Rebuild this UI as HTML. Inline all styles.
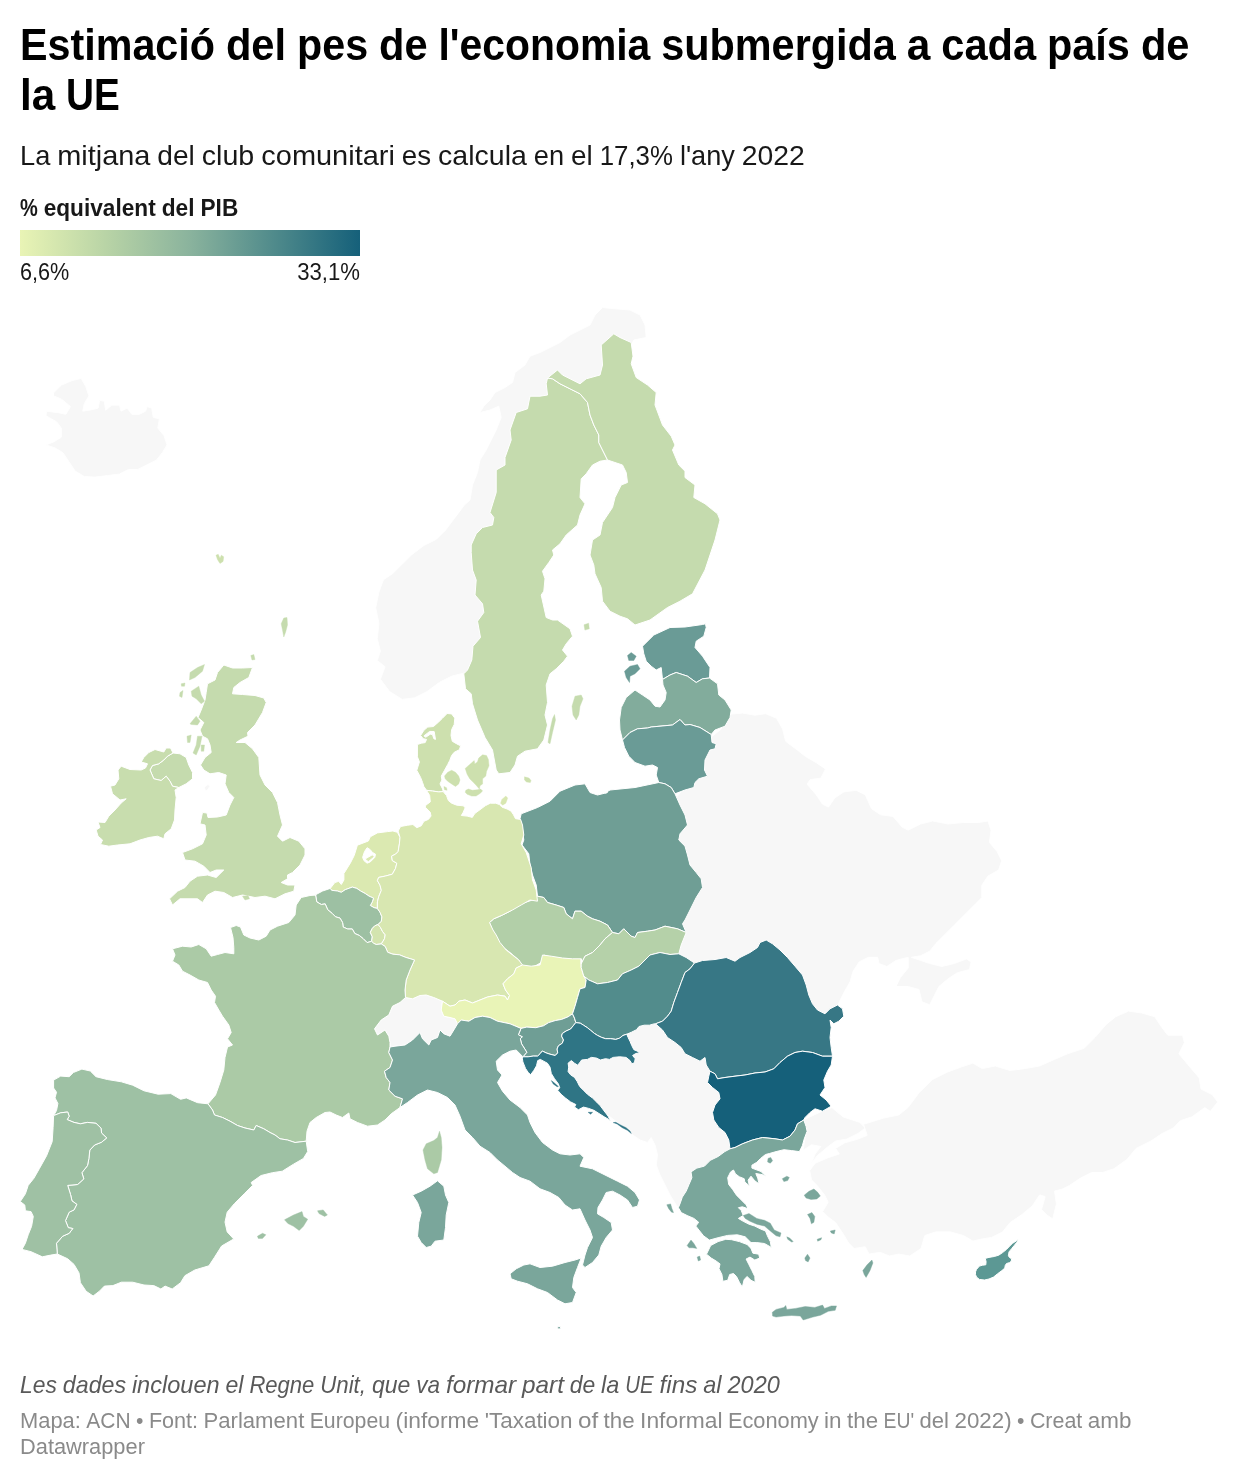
<!DOCTYPE html>
<html lang="ca"><head><meta charset="utf-8"><title>Estimació del pes de l'economia submergida a cada país de la UE</title>
<style>
html,body{margin:0;padding:0;background:#fff}
svg{display:block}
text{font-family:"Liberation Sans",Arial,sans-serif}
.t{font-weight:700;font-size:44px;fill:#000}
.s{font-size:28px;fill:#181818}
.lt{font-weight:700;font-size:24px;fill:#181818}
.ll{font-size:24px;fill:#181818}
.n{font-size:24px;font-style:italic;fill:#595959}
.f{font-size:22px;fill:#8a8a8a}
.bg path{fill:#f7f7f7;stroke:#fff;stroke-width:1;stroke-linejoin:round}
.c path{fill-rule:evenodd;stroke:#fff;stroke-width:1;stroke-linejoin:round}
</style></head><body>
<svg width="1240" height="1480" viewBox="0 0 1240 1480">
<defs><linearGradient id="g" x1="0" x2="1" y1="0" y2="0">
<stop offset="0" stop-color="#e9f4b5"/><stop offset="0.25" stop-color="#b9d4a6"/><stop offset="0.5" stop-color="#8ab39d"/><stop offset="0.75" stop-color="#4f8a8b"/><stop offset="1" stop-color="#15607a"/>
</linearGradient></defs>
<rect width="1240" height="1480" fill="#fff"/>
<text class="t" y="60"><tspan x="20.0" textLength="195.0" lengthAdjust="spacingAndGlyphs">Estimació</tspan> <tspan x="225.9" textLength="60.2" lengthAdjust="spacingAndGlyphs">del</tspan> <tspan x="297.0" textLength="71.1" lengthAdjust="spacingAndGlyphs">pes</tspan> <tspan x="379.0" textLength="48.5" lengthAdjust="spacingAndGlyphs">de</tspan> <tspan x="438.5" textLength="211.8" lengthAdjust="spacingAndGlyphs">l'economia</tspan> <tspan x="661.2" textLength="234.7" lengthAdjust="spacingAndGlyphs">submergida</tspan> <tspan x="906.8" textLength="23.6" lengthAdjust="spacingAndGlyphs">a</tspan> <tspan x="941.3" textLength="94.8" lengthAdjust="spacingAndGlyphs">cada</tspan> <tspan x="1047.0" textLength="82.9" lengthAdjust="spacingAndGlyphs">país</tspan> <tspan x="1140.9" textLength="48.5" lengthAdjust="spacingAndGlyphs">de</tspan></text>
<text class="t" y="110"><tspan x="20.0" textLength="35.2" lengthAdjust="spacingAndGlyphs">la</tspan> <tspan x="66.1" textLength="53.8" lengthAdjust="spacingAndGlyphs">UE</tspan></text>
<text class="s" y="165"><tspan x="20.0" textLength="30.3" lengthAdjust="spacingAndGlyphs">La</tspan> <tspan x="57.2" textLength="93.2" lengthAdjust="spacingAndGlyphs">mitjana</tspan> <tspan x="157.3" textLength="37.5" lengthAdjust="spacingAndGlyphs">del</tspan> <tspan x="201.7" textLength="52.6" lengthAdjust="spacingAndGlyphs">club</tspan> <tspan x="261.3" textLength="133.6" lengthAdjust="spacingAndGlyphs">comunitari</tspan> <tspan x="401.8" textLength="29.3" lengthAdjust="spacingAndGlyphs">es</tspan> <tspan x="438.1" textLength="88.8" lengthAdjust="spacingAndGlyphs">calcula</tspan> <tspan x="533.8" textLength="30.3" lengthAdjust="spacingAndGlyphs">en</tspan> <tspan x="571.1" textLength="21.7" lengthAdjust="spacingAndGlyphs">el</tspan> <tspan x="599.7" textLength="73.2" lengthAdjust="spacingAndGlyphs">17,3%</tspan> <tspan x="679.9" textLength="55.0" lengthAdjust="spacingAndGlyphs">l'any</tspan> <tspan x="741.8" textLength="63.0" lengthAdjust="spacingAndGlyphs">2022</tspan></text>
<text class="lt" y="215.5"><tspan x="20.0" textLength="17.8" lengthAdjust="spacingAndGlyphs">%</tspan> <tspan x="43.7" textLength="112.0" lengthAdjust="spacingAndGlyphs">equivalent</tspan> <tspan x="161.7" textLength="32.8" lengthAdjust="spacingAndGlyphs">del</tspan> <tspan x="200.5" textLength="37.8" lengthAdjust="spacingAndGlyphs">PIB</tspan></text>
<rect x="20" y="230" width="340" height="26" fill="url(#g)"/>
<text class="ll" y="279.5"><tspan x="20.0" textLength="49.3" lengthAdjust="spacingAndGlyphs">6,6%</tspan></text>
<text class="ll" y="279.5"><tspan x="297.2" textLength="62.8" lengthAdjust="spacingAndGlyphs">33,1%</tspan></text>
<g class="bg">
<path d="M405.5,997.5L412.5,998.8L420,995.5L426.2,995L433.8,997.5L442.5,1001.2L442.5,1001.2L441.2,1010L443.8,1016.2L450,1017.5L455,1018.8L457.5,1023.8L457.5,1023.8L453.8,1030L450,1036.2L443.8,1033.8L440,1030L437.5,1037.5L431.2,1040L428.8,1045L422.5,1038.8L420,1032.5L412.5,1040L405,1045L395,1046.2L390,1047L390,1047L390,1042.5L388.8,1036.2L385,1030L377.5,1035L374.5,1028.8L381.2,1020L388.8,1015L392.5,1006.2L400,1002.5L405.5,997.5Z"/>
<path d="M803.7,1119.8L822.7,1110.9L831.9,1107.6L843.1,1116.9L859.8,1122.4L865.3,1128L857.9,1133.5L846.8,1139.1L835.6,1141L828.2,1146.5L817.1,1155.8L811.5,1163.2L815.2,1154L820.8,1146.5L811.5,1144.7L806,1148.4L803,1150.2L805.2,1137.3L806,1128Z"/>
<path d="M863.5,1124.3L883.9,1118L898.7,1115L908,1107.6L919.1,1092.7L932.1,1079.8L946.9,1072.3L961.8,1066.8L972.9,1063.1L982.2,1068.6L995.2,1066L1010,1070.5L1024.8,1068.6L1039.7,1066L1054.5,1059.4L1067.5,1053.8L1084.2,1048.2L1095.3,1037.1L1106.5,1024.1L1115.7,1016.7L1128.7,1011.1L1141.7,1013L1154.7,1016.7L1162.1,1027.8L1167.7,1035.2L1182.5,1035.2L1184.4,1042.7L1178.8,1053.8L1188.1,1064.9L1199.2,1077.9L1201,1089L1212.2,1094.6L1217.7,1102L1210.3,1111.3L1204.8,1107.6L1191.8,1116.9L1180.6,1120.6L1173.2,1128L1162.1,1133.5L1151,1141L1136.1,1148.4L1126.9,1159.5L1113.9,1168.8L1102.7,1172.5L1091.6,1172.5L1080.5,1178.1L1069.4,1185.5L1061.9,1189.2L1054.5,1191L1056.4,1204L1052.7,1218.9L1047.1,1215.2L1041.5,1209.6L1045.2,1196.6L1039.7,1194.8L1032.3,1205.9L1021.1,1215.2L1010,1222.6L1002.6,1231.9L991.5,1237.4L980.3,1239.3L972.9,1241.1L963.6,1235.6L950.6,1231.9L935.8,1231.9L924.7,1235.6L921,1248.5L909.8,1256L898.7,1254.1L889.4,1256L880.2,1252.3L869,1254.1L865.3,1246.7L854.2,1248.5L848.6,1243L843.1,1233.7L835.6,1222.6L828.2,1217L822.7,1211.5L828.2,1202.2L824.5,1194.8L817.1,1185.5L811.5,1179.9L809.7,1170.6L815.2,1163.2L828.2,1157.7L839.4,1154L835.6,1148.4L844.9,1142.8L857.9,1139.1L867.2,1135.4Z"/>
<path d="M721.3,729L728,714.3L742.7,713.1L755,715.2L765.7,713.7L776.5,718.3L782.6,729L785.6,741.3L797.9,750.5L805.6,756.6L816.3,762.7L825.5,768.9L820.9,778.1L810.2,779.6L807.1,784.2L816.3,794.9L822.4,804.1L828.5,807.2L834.7,798L843.9,791.9L856.1,790.3L865.3,794.9L871.5,808.7L880.6,814.8L892.9,816.4L902.1,827.1L908.2,830.2L920.5,824L932.7,821L948.1,824L963.4,822.5L978.7,822.5L987.9,821L991,830.2L989.4,842.4L997.1,851.6L1001.7,860.8L998.6,870L987.9,876.1L981.8,885.3L981.8,897.6L975.6,903.7L966.5,912.9L954.2,925.2L945,934.4L935.8,943.5L929.7,951.2L920.5,955.8L911.3,957.3L920.5,960.4L929.7,963.5L941.9,966.5L954.2,963.5L966.5,958.9L971,961.9L969.5,969.6L957.3,972.7L948.1,978.8L938.9,986.5L934.3,995.6L929.7,1004.8L922,1001.8L919,989.5L908.2,986.5L896,986.5L900.6,977.3L908.2,968.1L908.2,957.3L896,960.4L886.8,966.5L879.1,963.5L877.6,957.3L868.4,957.3L859.2,961.9L853.1,971.1L850,981.9L843.9,992.6L839.3,1001.8L836.2,1009.4L813.2,1017.1L751.9,1001.8L696.8,986.5L672.3,971.1L669.2,940.5L672.3,863.9L672.3,802.6L696.8,771.9L706,741.3Z"/>
<path d="M631.2,1133.8L640,1140L647.5,1142.5L651.2,1137.5L655,1145L657.5,1155L656.2,1165L660,1175L665,1185L670,1195L676.2,1205L678.8,1207.5L695,1195L710,1175L740,1155L740,1132.5L730,1107.5L730,1082.5L720,1060L690,1040L670,1020L650,1015L625,1025L622.5,1045L590,1050L565,1052.5L563.8,1072.5L572.5,1085L582.5,1095L602.5,1111.2L622.5,1126.2Z"/>
<path d="M646.2,337.5L645,325L640,315L630,310L615,308.8L602.5,307.5L595,315L590,325L580,330L570,335L560,342.5L550,347.5L540,352.5L530,356.2L525,365L515,372.5L512.5,382.5L505,387.5L495,392.5L490,400L483.8,406.2L480,412.5L490,410L498.8,406.2L501.2,417.5L496.2,430L491.2,440L486.2,450L480,460L477.5,472.5L472.5,485L470,500L464.3,505.1L455,517.6L445.7,530L436.4,539.3L423.9,545.5L411.5,554.9L402.2,564.2L392.8,573.5L383.5,579.7L378.9,592.2L375.7,607.7L378.9,623.2L377.3,638.8L380.4,651.2L377.3,660.5L385.1,666.8L380.4,679.2L389.7,691.6L402.2,699.4L414.6,697.8L427,691.6L439.5,682.3L451.9,676.1L464.3,673L470.5,673L486.1,641.9L495.4,607.7L492.3,548.6L510.9,517.6L520.3,461.6L532.7,430.5L550,405L570,395L590,390L610,375L620,350L630,347.5L633.8,340Z"/>
<path d="M53.6,392.8L61.3,385.2L72,380.6L81.2,378.4L85.8,386.7L88.9,395.9L84.3,403.5L82.7,411.2L91.9,409.7L98.1,408.1L99.6,400.5L104.2,401.1L105.7,410.3L111.9,405.1L119.5,405.1L121,411.2L127.2,408.1L131.8,414.3L139.4,414.3L145.6,411.2L147.1,406.6L151.7,408.1L153.2,417.3L159.4,418.9L157.8,428.1L164,435.7L167,444.9L162.4,452.6L156.3,460.2L147.1,464.8L137.9,469.4L128.7,469.4L119.5,474L107.3,475.6L95,477.1L84.3,476.5L75.1,471L69,461.8L62.8,452.6L55.2,448L46,444.9L53.6,441.9L61.3,437.3L61.3,428.1L56.7,421.9L46,415.8L46.6,411.2L58.2,412.7L65.9,414.3L70.5,406.6L61.3,399L53.6,395.9Z"/>
<path d="M204.5,787L208,784.5L210,786.2L207,790.5L205,790Z"/>
</g>
<g class="c">
<path fill="#c5dbae" d="M607.5,460L602.5,450L598.8,442.5L598.8,435L593.8,425L590,415L587.5,402.5L580,393.8L570,388.8L560,383.8L552.5,378.8L547.5,378L547.5,378L546.2,383.8L547.5,395L540,396.2L530,396.2L527.5,408.8L516.2,412.5L510,430L511.2,440L505,457.5L505,465L496.2,470L496.2,492.5L490,512.5L493.8,517.5L492.5,525L482.5,527.5L476.2,533.8L471.2,545L471.2,552.5L472.5,570L476.2,580L475,595L482.5,603.8L483.8,612.5L477.5,621.2L480.5,637.5L473,646.2L471.8,660L467.5,670L463.8,673.8L465.5,688.8L471.2,693.8L472.5,703.8L477.5,720L485,737.5L492.5,750L496.2,770L498.8,773.8L510,772.5L515,765L517.5,756.2L525,751.2L537.5,748.8L543.8,740L547.5,725L545,715L547.5,702.5L546.2,685L550,673.8L556.2,668.8L563.8,661.2L567.5,656.2L562.5,650L566.2,643.8L572.5,636.2L570,628.8L557.5,620L552.5,620L546.2,617.5L541.2,595L543.8,591.2L545,578.8L542.5,571.2L548.8,562.5L553.8,555L552.5,550L560,543.8L566.2,535L577.5,525L580,515L585,503.8L580,497.5L581.2,478.8L586.2,473.8L592.5,465L600,461.2L607.5,460Z"/>
<path fill="#c5dbae" d="M547.5,378L557.5,370L562.5,375L580,383.8L586.2,378.8L600,375L602.5,365L601.2,345L613.8,333.8L620,337.5L631.2,342.5L633,356.2L631.2,363.8L636.2,377.5L647.5,385L656.2,392.5L655,405L662.5,425L671.2,436.2L675,445L672.5,450L678.8,465L685,471.2L685,477.5L695,485L693.8,497.5L705,503.8L717.5,513.8L720,520L715,540L705,570L692.5,593.8L680,601.2L667.5,607.5L650,620L635,625L627.5,618.8L620,616.2L610,611.2L602.5,601.2L601.2,587.5L595,573.8L593.8,565L590,555L592.5,540L600,535L602.5,522.5L612.5,507.5L615,497.5L621.2,485L627.5,482.5L626.2,472.5L622.5,465L615,462.5L607.5,460L602.5,450L598.8,442.5L598.8,435L593.8,425L590,415L587.5,402.5L580,393.8L570,388.8L560,383.8L552.5,378.8L547.5,378Z"/>
<path fill="#cde0ae" d="M426.5,790.3L423.9,786.5L422.6,782.6L420.6,777.4L416.8,770.3L419.4,761.9L417.4,756.8L417.4,744.5L421.3,743.2L425.2,742.6L426.5,739.4L423.2,738.7L420.6,735.5L423.9,730.3L427.7,727.1L433.5,726.5L438.7,721.9L442.6,718.1L447.1,713.5L451.6,713.9L454.8,718.1L454.2,724.5L451.6,729.7L451,735.5L452.3,741.3L456.8,743.9L460.6,745.8L459.4,749.7L454.2,752.3L451.6,755.5L449.7,760.6L447.7,764.5L444.5,770.3L441.3,776.1L441.9,780L440,783.9L442.6,789L443.2,791.6L438.7,791.9L432.3,791L426.5,790.3ZM423.9,735.9L429.7,731.4L434.2,731.6L435.5,739.4L433.8,738.7L432.5,734.6L430.3,734.2L425.8,737.2Z"/>
<path fill="#6a9b96" d="M642.5,646.2L653.8,635L670,627.5L685,627L702.5,624.5L705.5,623.8L706.2,627.5L703.8,636.2L696.2,641.2L695,647.5L702.5,656.2L710,667.5L709.5,678L702.5,678.8L696.2,682.5L687.5,676.2L676.2,672.5L670,675L662.5,679.5L661.2,667.5L656.2,670L651.2,666.2L646.2,661.2L643.8,653.8Z"/>
<path fill="#82ac9c" d="M662.5,679.5L670,675L676.2,672.5L687.5,676.2L696.2,682.5L702.5,678.8L709.5,678L717.5,683.8L718.8,695L725,700L731.2,710L730,717.5L725,726.2L715,730L711.2,734.5L700,727.5L690,724.5L685,725L680,719.5L672.5,725L660,726.2L651.2,727L647.5,728L637.5,728.8L630,732.5L622.5,740L620,730L619.5,720L621.2,707.5L626.2,697.5L635,690L642.5,695L650,700L655,706.2L660,707L665,700L666.2,692.5L663,685Z"/>
<path fill="#6a9b96" d="M622.5,740L630,732.5L637.5,728.8L647.5,728L651.2,727L660,726.2L672.5,725L680,719.5L685,725L690,724.5L700,727.5L711.2,734.5L712,742.5L716.2,743.8L715,748.8L710,750L705,760L704.5,770L707.5,776.2L698.8,778.8L695,782.5L693.8,787.5L685,790L675,793.8L671.2,787.5L665,783.8L658.8,782.5L656.2,775L657.5,767.5L652.5,765L645,766.2L635,762.5L628.8,756.2L624.5,747.5Z"/>
<path fill="#6f9e95" d="M521.2,813.8L537.5,807.5L550,801.2L560,791.2L575,785L585,783.8L590,792.5L597.5,795L607.5,792.5L605,793L610,790L635,787.5L658.8,782.5L665,783.8L671.2,787.5L675,793.8L680,805L685,815L687.5,825L680,833.8L678.8,840L685,846.2L687.5,855L690,865L696.2,872.5L701.2,878.8L702.5,887.5L696.2,897.5L690,910L685,920L682.5,923.8L686.2,932.5L677.5,928.8L665,926.2L655,930L647.5,931.2L637.5,932.5L635,937.5L631.2,936.2L623.8,928.8L618.8,933.8L612.5,932.5L612.5,932.5L607.5,925L600,921.2L592.5,918.8L587.5,916.2L581.2,911.2L575,911.2L572.5,918.8L566.2,913.8L563.8,907.5L556.2,905L547.5,902.5L543.8,897.5L537.5,896.2L537.5,896.2L536.2,885L532.5,875L530,865L528.8,853.8L522,845L523.8,840L522.5,830L520,818.8Z"/>
<path fill="#b2cfa8" d="M537.5,896.2L543.8,897.5L547.5,902.5L556.2,905L563.8,907.5L566.2,913.8L572.5,918.8L575,911.2L581.2,911.2L587.5,916.2L592.5,918.8L600,921.2L607.5,925L612.5,932.5L612.5,932.5L605,938.8L600,945L592.5,952.5L585,956.2L581.2,963.8L580.5,964.5L575,960L565,958.8L552.5,957.5L543.8,955L541.2,962.5L532.5,967.5L522.5,967L522.5,967L518.8,960L510,952.5L500,945L496.2,937.5L492.5,930L489.5,922.5L493.8,918.8L500,916.2L510,911.2L517.5,905L525,902.5L532.5,900L537.5,896.2Z"/>
<path fill="#c5dbae" d="M223.8,665L232.5,668L242.5,668L252.5,667.5L248.8,677.5L240,682.5L233.8,687.5L232.5,693.8L242.5,694.5L255,695.5L263.8,698L266.2,702.5L262.5,712.5L255,725L247.5,732.5L248,736.2L240,740L236.2,742.5L245,742.5L252.5,748.8L258.8,757.5L260,775L265,785L272.5,792.5L277.5,802.5L280,815L282.5,825L277.5,836.2L282.5,841.2L290,837.5L298.8,841.2L305,848.8L305,855L300,865L292.5,872.5L287.5,875L287.5,878.8L281.2,882.5L287.5,885L295,885L293.8,891.2L285,893.8L275,898.8L265,896.2L255,897.5L242.5,895L232.5,897.5L223.8,892.5L215,891.2L207.5,895L202.5,902.5L197.5,898.8L190,898.8L180,898.8L172.5,905L169.5,898.8L177.5,891.2L185,887.5L190,881.2L197.5,876.2L207.5,875L216.2,877.5L223.8,870L216.2,870L210,872.5L203.8,866.2L195,861.2L185,860L182.5,852.5L192.5,848.8L202.5,843.8L206.2,835L205,825L200,823.8L202.5,812.5L207,813L208,817.5L217.5,817L226.2,815L230,805L233.8,797.5L228.8,792.5L225,783.8L226.2,775L218.8,772.5L210,773.8L203.8,770L200.5,765L205,757.5L211.2,752.5L210,745L207.5,738.8L202.5,736.2L200,730L203.8,722.5L198,717.5L201.2,710L205,700L206.2,692.5L207.5,683.8L215,680L217.5,672.5ZM173,753L167.5,756.2L163.8,760L158.8,763.8L152.5,765.5L150,770L153.8,778.8L161.2,780.5L166.2,776.2L170,781.2L172.5,786.2L178.8,787.5L186.2,783.8L192.5,778.8L192.5,772.5L188.8,765L186.2,757.5L180,753.8Z"/>
<path fill="#c8ddae" d="M173,753L170.5,748L166.2,748L163.8,752L155,749.5L148.8,752.5L143.8,757.5L141.2,762L147.5,763.8L145.5,768L141.2,770L130,769.5L121.2,766.2L118,770L118.8,778.8L115,785L110.5,786.2L112.5,793.8L120,800L126.2,798.8L121.2,803L115,810L108.8,816.2L105,822.5L98,822L100,827.5L96.2,830L98,836.2L102.5,840L100.5,844.5L108.8,846.2L117.5,845L130,843.8L140,840L148.8,837.5L157.5,836.2L163.8,838.8L165,833.8L171.2,828.8L174.5,820L175,810L176.2,797.5L175,790L178.8,787.5L172.5,786.2L170,781.2L166.2,776.2L161.2,780.5L153.8,778.8L150,770L152.5,765.5L158.8,763.8L163.8,760L167.5,756.2L173,753Z"/>
<path fill="#dbe9b1" d="M330.3,888.4L334.8,882.6L338.7,881.3L341.3,884.5L343.9,880L343.9,873.5L350.3,863.2L354.2,855.5L357.4,845.2L368.4,841L370.3,836.8L377.4,832.9L387.7,831.6L392.9,831L397.4,832.3L400,837.4L399.4,843.9L398.1,851.6L395.5,854.2L391.6,856.1L392.3,860.6L396.8,863.2L395.5,868.4L392.3,874.2L385.2,876.1L378.7,877.4L377.4,880.6L380,885.2L381.3,890.3L378.7,896.8L377.4,901.9L377.4,908.4L377.4,908.4L374.2,907.7L370.3,905.5L372.3,901.9L373.5,898.1L369,896.1L365.2,893.5L360.6,891L356.8,888.4L352.3,887.1L345.2,889.7L341.3,892.3L337.4,891L331.6,890.3L330.3,888.4ZM362.6,857.4L364.5,851.6L367.1,847.7L370.3,849.7L372.3,852.3L375.5,854.2L374.8,857.4L370.3,861.9L367.1,863.2L363.9,860.6ZM364.9,859.1L372.3,854.8L374.3,856.8L368.4,861.7Z"/>
<path fill="#9dc0a3" d="M315.5,894.8L322.6,891L330.3,888.4L331.6,890.3L337.4,891L341.3,892.3L345.2,889.7L352.3,887.1L356.8,888.4L360.6,891L365.2,893.5L369,896.1L373.5,898.1L372.3,901.9L370.3,905.5L374.2,907.7L377.4,908.4L377.4,908.4L380,912.3L381.9,916.8L381.3,921.3L378.1,924.5L378.1,924.5L374.8,925.8L372.3,928.4L370.3,932.3L372.3,936.8L371.6,941.3L371.6,941.3L367.1,942.6L363.2,938.7L359.4,935.5L354.8,933.5L352.3,929L347.7,929L343.2,927.1L342.6,922.6L340,918.1L335.5,916.8L332.3,913.5L327.7,909.7L325.2,903.9L321.3,904.5L316.8,901.9L315.5,894.8Z"/>
<path fill="#d3e4af" d="M378.1,924.5L380.6,927.7L382.6,931.6L385.2,934.8L384.5,938.7L382.6,941.9L381.3,943.9L381.3,943.9L376.1,944.5L373.5,943.2L371.6,941.3L371.6,941.3L372.3,936.8L370.3,932.3L372.3,928.4L374.8,925.8L378.1,924.5Z"/>
<path fill="#d8e7b1" d="M400,837.4L399.4,843.9L398.1,851.6L395.5,854.2L391.6,856.1L392.3,860.6L396.8,863.2L395.5,868.4L392.3,874.2L385.2,876.1L378.7,877.4L377.4,880.6L380,885.2L381.3,890.3L378.7,896.8L377.4,901.9L377.4,908.4L377.4,908.4L380,912.3L381.9,916.8L381.3,921.3L378.1,924.5L378.1,924.5L380.6,927.7L382.6,931.6L385.2,934.8L384.5,938.7L382.6,941.9L381.3,943.9L381.3,943.9L385.2,946.5L387.7,952.3L392.9,954.2L399.4,954.8L405.8,957.4L414.5,960L410,970L406.2,980L405,990L405.5,997.5L405.5,997.5L412.5,998.8L420,995.5L426.2,995L433.8,997.5L442.5,1001.2L442.5,1001.2L450,1006.2L455,1005L458.8,1001.2L465,1000L472.5,1003L480,1000L487.5,997L497.5,995L505,996.2L507.5,1000L509.5,995.5L505.5,990L503,983.8L507.5,978.8L513.8,973.8L516.2,968L522.5,965L522.5,965L518.8,960L512.5,955L506.2,950L500,942.5L496.2,935L493,930L489.5,922.5L493.8,918.8L502.5,915L512.5,910L521.2,905L530,900L537.5,901.2L537.5,901.2L536.2,890L532.5,880L531.2,867.5L526.2,852.5L521.2,843.8L523.8,835L522.5,825L520.6,819.4L515.5,818.7L513.5,814.8L511,811L507.1,809L501.9,807.1L499.4,804.5L495.5,803.2L490.3,803.2L485.2,805.8L480,809.7L474.8,813.5L472.3,817.4L467.1,816.1L461.3,815.5L463.2,812.3L465.2,807.7L463.2,805.8L456.8,805.2L451.6,803.2L448.4,800.6L446.5,795.5L443.2,791.6L438.7,791.9L432.3,791L426.5,790.3L429.7,795.5L430.3,801.9L425.8,805.2L425.2,807.1L430.3,812.3L431,816.1L428.4,819.4L423.9,821.3L421.3,825.8L416.8,827.7L412.9,824.5L407.7,825.2L400.6,826.5L398.1,831Z"/>
<path fill="#e9f4b7" d="M442.5,1001.2L450,1006.2L455,1005L458.8,1001.2L465,1000L472.5,1003L480,1000L487.5,997L497.5,995L505,996.2L507.5,1000L509.5,995.5L505.5,990L503,983.8L507.5,978.8L513.8,973.8L516.2,968L522.5,965L522.5,965L531.2,966.2L540,965L542.5,955L551.2,956.2L562.5,958L572.5,958.8L581.2,958.8L581.2,958.8L581.2,967.5L583.8,976.2L583.8,976.2L586.2,980L585,987.5L580,988.8L577.5,997.5L575,1006.2L572.5,1013.8L572.5,1013.8L568.1,1016.8L561.6,1019.4L555.2,1020.6L548.7,1022.6L543.5,1025.8L535.8,1027.7L526.8,1027.1L521,1028.4L521,1028.4L510,1023.8L497.5,1021.2L490,1017.5L482.5,1016.2L475,1017.5L468.8,1021.2L461.2,1020L457.5,1023.8L457.5,1023.8L455,1018.8L450,1017.5L443.8,1016.2L441.2,1010L442.5,1001.2Z"/>
<path fill="#6f9e95" d="M521,1028.4L526.8,1027.1L535.8,1027.7L543.5,1025.8L548.7,1022.6L555.2,1020.6L561.6,1019.4L568.1,1016.8L572.5,1013.8L574.5,1018.1L575.8,1022.6L573.2,1025.8L570.6,1029L566.1,1031L562.3,1033.5L561.6,1036.1L563.5,1040L562.3,1043.2L558.4,1045.8L557.1,1049L557.7,1052.9L555.2,1055.5L550,1054.2L546.1,1052.9L542.3,1051L540.3,1053.5L537.7,1056.1L533.2,1056.1L528.1,1056.8L522.9,1056.8L526.8,1052.3L524.8,1049L521.6,1043.9L520.3,1038.7L522.3,1036.8L518.4,1034.8L521,1028.4Z"/>
<path fill="#abcaa6" d="M316.2,895L310,895.5L301.2,897.5L296.2,905L295,915L288.8,922.5L277.5,926.2L270,930L266.2,936.2L258.8,940L250,938L243.8,935L240.5,927L236.2,925.5L230.5,927.5L233,937.5L233.8,947.5L233.8,953.8L225,952.5L217.5,954.5L211.2,956.2L206.2,948.8L198.8,944.5L191.2,947L182.5,946.2L172.5,948.8L175,955L172.5,961.2L178.8,965L182.5,971.2L190,975L198.8,980L207.5,982.5L211.2,990L215.5,996.2L214.5,1002.5L218.8,1010L222.5,1016.2L228.8,1025L231.2,1032.5L227.5,1038.8L232.5,1045L227.5,1047L225,1057.5L223.8,1070L220,1082.5L215.5,1095L208,1103.8L208,1103.8L212.5,1110L214.5,1115L222.5,1117.5L230,1121.2L237.5,1125.5L245,1128L253.8,1130L256.2,1125.5L263.8,1128.8L270,1132.5L275,1135L280,1138.8L287.5,1140L295,1142.5L306.2,1141.2L306.2,1141.2L307,1131.2L310,1122.5L316.2,1117.5L325,1112.5L330,1112L336.2,1115L342.5,1117.5L348.8,1113L350,1118.8L357.5,1122.5L367.5,1126.2L377.5,1125L385,1120L391.2,1113.8L400,1107.5L400,1107.5L402.5,1098.8L395,1096.2L388.8,1090L390,1082.5L386.2,1077.5L384.5,1071.2L390,1067.5L392.5,1060L388.8,1052.5L390,1047L390,1047L390,1042.5L388.8,1036.2L385,1030L377.5,1035L374.5,1028.8L381.2,1020L388.8,1015L392.5,1006.2L400,1002.5L405.5,997.5L405.5,997.5L405,990L406.2,980L410,970L414.5,960L405.8,957.4L399.4,954.8L392.9,954.2L387.7,952.3L385.2,946.5L381.3,943.9L381.3,943.9L376.1,944.5L373.5,943.2L371.6,941.3L371.6,941.3L367.1,942.6L363.2,938.7L359.4,935.5L354.8,933.5L352.3,929L347.7,929L343.2,927.1L342.6,922.6L340,918.1L335.5,916.8L332.3,913.5L327.7,909.7L325.2,903.9L321.3,904.5L316.8,901.9L315.5,894.8Z"/>
<path fill="#9ec1a4" d="M306.2,1141.2L295,1142.5L287.5,1140L280,1138.8L275,1135L270,1132.5L263.8,1128.8L256.2,1125.5L253.8,1130L245,1128L237.5,1125.5L230,1121.2L222.5,1117.5L214.5,1115L212.5,1110L208,1103.8L197.6,1102.7L186.3,1097.9L180.6,1099.3L170.8,1093.6L158.1,1094.2L144,1090.8L132.7,1085.2L121.4,1081.8L107.3,1079.5L96,1076.7L90.3,1071L81.9,1069.1L73.4,1072.5L69.2,1076.7L60.7,1076.1L53.6,1080.1L53.6,1088L56.5,1092.2L55,1097.9L57.9,1103.5L56.5,1110.6L53.6,1115.6L53.6,1115.6L60.7,1112.8L67.7,1112L69.2,1116.2L67.2,1119.6L74,1122.4L80.4,1123.8L87.5,1122.4L96,1123.3L101,1128.1L101.6,1133.1L106.7,1137.9L101.6,1142.2L94.6,1145L89.8,1150.1L88.9,1158.5L87.5,1165.6L81.9,1172.7L83.8,1178.9L77.6,1184.5L67.7,1185.4L70.6,1194.7L72,1200.9L76.8,1204.3L74,1209.9L69.2,1212.2L65.5,1220.6L68.3,1227.7L72.8,1228.5L69.2,1233.3L62.7,1236.2L56.5,1243.2L57.3,1254L67.7,1258.8L74,1264.4L79,1272.9L80.4,1282.7L86.1,1291.2L93.1,1296L99.4,1291.2L104.4,1286.1L112.9,1285.6L121.4,1282.2L132.7,1282.2L144,1285L153.8,1285.6L160.9,1289L165.1,1286.1L172.2,1289L180.6,1282.7L184.9,1275.7L194.8,1270L208.9,1265.8L214.5,1257.3L221.6,1246L233.7,1239L227.2,1231.9L225,1222.1L227.2,1212.2L234.3,1203.7L244.2,1193.8L252.6,1185.4L251.2,1182.5L261.1,1175.5L272.4,1172.7L282.3,1171.2L293.5,1164.2L303.4,1158.5L307.7,1151.5Z"/>
<path fill="#9fc1a4" d="M53.6,1115.6L53.1,1127.5L52.2,1141.6L46.6,1155.7L39.5,1168.4L33.9,1178.3L28.2,1185.4L25.4,1193.8L20.3,1201.5L24.8,1205.1L25.4,1210.8L31,1211.6L33.3,1216.4L31.6,1226.3L28.2,1234.8L25.4,1243.2L22,1249.4L31,1251.7L42.3,1256.8L50.8,1255.1L57.3,1254L56.5,1243.2L62.7,1236.2L69.2,1233.3L72.8,1228.5L68.3,1227.7L65.5,1220.6L69.2,1212.2L74,1209.9L76.8,1204.3L72,1200.9L70.6,1194.7L67.7,1185.4L77.6,1184.5L83.8,1178.9L81.9,1172.7L87.5,1165.6L88.9,1158.5L89.8,1150.1L94.6,1145L101.6,1142.2L106.7,1137.9L101.6,1133.1L101,1128.1L96,1123.3L87.5,1122.4L80.4,1123.8L74,1122.4L67.2,1119.6L69.2,1116.2L67.7,1112L60.7,1112.8L53.6,1115.6Z"/>
<path fill="#7aa69b" d="M400,1107.5L407.5,1102.5L417.5,1095L427.5,1090L437.5,1092.5L447.5,1097.5L455,1105L460,1116.2L465,1130L472.5,1137.5L480,1146.2L490,1152.5L497.5,1160L505,1166.2L512.5,1172.5L520,1177.5L530,1181.2L540,1188.8L550,1192.5L558.8,1197.5L565,1205L572.5,1210L580,1208.8L585,1220L590,1230L592.5,1237.5L587.5,1247.5L585,1255L582.5,1265L585,1267.5L592.5,1262.5L598.8,1255L601.2,1246.2L606.2,1237.5L612.5,1230L611.2,1222.5L603.8,1217.5L597.5,1213.8L598,1207.5L602.5,1200L606.2,1192.5L612.5,1191.2L620,1195L627.5,1200L632.5,1207.5L637.5,1206.2L639.5,1200L635,1192.5L627.5,1186.2L617.5,1181.2L605,1175L592.5,1168.8L580,1166.2L583.8,1157.5L580,1153.8L570,1155L560,1153.8L552.5,1150L542.5,1142.5L535,1132.5L530,1122.5L527.5,1115L520,1107.5L510,1100L502.5,1091.2L497.5,1082.5L502,1075L497.5,1070L496.2,1061.2L502.5,1055L510,1051.2L516.2,1050L522.9,1056.8L526.8,1052.3L524.8,1049L521.6,1043.9L520.3,1038.7L522.3,1036.8L518.4,1034.8L521,1028.4L521,1028.4L510,1023.8L497.5,1021.2L490,1017.5L482.5,1016.2L475,1017.5L468.8,1021.2L461.2,1020L457.5,1023.8L457.5,1023.8L453.8,1030L450,1036.2L443.8,1033.8L440,1030L437.5,1037.5L431.2,1040L428.8,1045L422.5,1038.8L420,1032.5L412.5,1040L405,1045L395,1046.2L390,1047L390,1047L388.8,1052.5L392.5,1060L390,1067.5L384.5,1071.2L386.2,1077.5L390,1082.5L388.8,1090L395,1096.2L402.5,1098.8L400,1107.5ZM510,1273.8L516.2,1268.8L523.8,1265L530,1263.8L540,1267.5L552.5,1266.2L565,1262.5L575,1260L581.2,1258L577.5,1267.5L573.8,1277.5L572.5,1287.5L576.2,1292.5L572.5,1302.5L565,1303.8L557.5,1300L547.5,1292.5L537.5,1288.8L527.5,1283.8L517.5,1281.2L511.2,1278.8ZM412.5,1195L421.2,1191.2L430,1186.2L437.5,1180.8L443.8,1186.2L445.5,1195L448.8,1202.5L446.2,1215L445.5,1227.5L443.8,1240L435,1241.2L431.2,1246.2L426.2,1247.5L421.2,1242.5L417.5,1236.2L418.8,1222.5L421.2,1212.5L417.5,1202.5Z"/>
<path fill="#6f9e95" d="M557,1327L560,1326.5L561,1328.8L558,1329Z"/>
<path fill="#b5d1a9" d="M612.5,932.5L618.8,933.8L623.8,928.8L631.2,936.2L635,937.5L637.5,932.5L647.5,931.2L655,930L665,926.2L677.5,928.8L686.2,932.5L686.2,932.5L681.2,945L678.8,953.8L670,954.5L660,952.5L650,955L645,960L638.8,966.2L631.2,970L622.5,973.8L617.5,980L607.5,982.5L597.5,983.8L588.8,980L583.8,976.2L583.8,976.2L581.2,967.5L581.2,958.8L581.2,963.8L585,956.2L592.5,952.5L600,945L605,938.8L612.5,932.5Z"/>
<path fill="#528c8c" d="M583.8,976.2L588.8,980L597.5,983.8L607.5,982.5L617.5,980L622.5,973.8L631.2,970L638.8,966.2L645,960L650,955L660,952.5L670,954.5L678.8,953.8L686.2,957.5L694.5,963L690,968.8L685,972.5L681.2,982.5L677.5,992.5L673.8,1002.5L671.2,1011.2L667.5,1016.2L662.5,1021.2L655.5,1023.8L653.9,1023.9L649.4,1025.2L644.2,1025.2L639,1026.5L636.5,1029.7L631.3,1032.3L626.8,1034.2L622.9,1035.5L619.7,1038.1L615.8,1039.4L610.6,1038.7L605.5,1038.7L601.6,1037.4L597.7,1035.5L594.5,1033.5L590.6,1030.3L587.4,1027.7L583.5,1025.2L580.3,1023.2L575.8,1022.6L575.8,1022.6L574.5,1018.1L572.5,1013.8L575,1006.2L577.5,997.5L580,988.8L585,987.5L586.2,980L583.8,976.2Z"/>
<path fill="#2f7585" d="M522.9,1056.8L522.3,1058.1L522.9,1061.9L525.5,1068.4L528.1,1072.3L530.6,1074.8L533.9,1070.3L536.5,1065.8L537.7,1060.6L540.3,1059.4L547.4,1063.2L550,1067.1L551.3,1073.5L554.5,1078.7L558.4,1083.9L559.7,1087.7L557.7,1090.3L561,1094.2L565.5,1098.1L570.6,1101.9L575.8,1104.5L574.5,1107.1L578.4,1109.7L583.5,1107.1L588.7,1108.4L593.9,1110.3L599,1113.5L604.2,1116.8L608.7,1119.4L610.6,1121.3L608.1,1116.1L604.2,1111L600.3,1105.8L596.5,1101.9L592.6,1098.1L587.4,1094.2L583.5,1090.3L579.7,1086.5L577.1,1081.3L574.5,1077.4L570.6,1074.8L568.1,1071.6L568.7,1067.1L568.1,1063.2L571.3,1060.6L574.5,1063.2L577.7,1065.2L580.3,1061.9L581.6,1060L587.4,1059.4L591.3,1057.4L596.5,1058.1L600.3,1060L605.5,1058.7L609.4,1059.4L613.2,1057.4L619.7,1056.8L626.1,1057.4L630,1060.6L631.9,1063.9L634.5,1062.6L635.2,1058.7L632.6,1055.5L635.8,1053.5L639.7,1052.9L637.1,1051L633.9,1049.7L631.9,1045.8L630,1041.3L628.1,1037.4L626.8,1034.2L622.9,1035.5L619.7,1038.1L615.8,1039.4L610.6,1038.7L605.5,1038.7L601.6,1037.4L597.7,1035.5L594.5,1033.5L590.6,1030.3L587.4,1027.7L583.5,1025.2L580.3,1023.2L575.8,1022.6L573.2,1025.8L570.6,1029L566.1,1031L562.3,1033.5L561.6,1036.1L563.5,1040L562.3,1043.2L558.4,1045.8L557.1,1049L557.7,1052.9L555.2,1055.5L550,1054.2L546.1,1052.9L542.3,1051L540.3,1053.5L537.7,1056.1L533.2,1056.1L528.1,1056.8L522.9,1056.8Z"/>
<path fill="#377785" d="M694.5,963L702.5,960.5L715,959.5L726.2,957.5L735,961.2L740,957.5L750,952.5L757.5,947.5L760,942.5L766.2,940L772.5,943.8L780,950L787.5,957.5L795,966.2L802.5,975L806.2,985L808.8,995L812.5,1003.8L817.5,1010L825,1013.8L830,1008.8L837.5,1005L842.5,1008.8L843.8,1016.2L838.8,1021.2L833.8,1023.8L830,1020L831.2,1027.5L830,1037.5L831.2,1047.5L832.5,1056.2L822.5,1056.2L812.5,1052.5L802.5,1051.2L795,1052.5L787.5,1056.2L780,1062.5L773.8,1068.8L765,1072L755,1073L745,1075L735,1076.2L725,1077.5L717.5,1078.8L715,1073.8L710,1071.2L706.2,1065L705,1057.5L700,1061.2L692.5,1057.5L685,1053.8L681.2,1047.5L675,1042.5L667.5,1037.5L662.5,1030L655.5,1023.8L662.5,1021.2L667.5,1016.2L671.2,1011.2L673.8,1002.5L677.5,992.5L681.2,982.5L685,972.5L690,968.8L694.5,963Z"/>
<path fill="#15607a" d="M710,1071.2L715,1073.8L717.5,1078.8L725,1077.5L735,1076.2L745,1075L755,1073L765,1072L773.8,1068.8L780,1062.5L787.5,1056.2L795,1052.5L802.5,1051.2L812.5,1052.5L822.5,1056.2L832.5,1056.2L831.2,1065L827.5,1071.2L823.8,1080L825,1087.5L820,1095L826.2,1100L831.2,1106.2L822.5,1111.2L815,1108.8L810,1112.5L805,1117.5L803.8,1120L797.5,1123.8L795,1130L790,1136.2L782.5,1140L775,1138.8L762.5,1137.5L752.5,1140L742.5,1143.8L735,1147.5L730,1148.8L728.8,1140L725,1132.5L718.8,1127.5L713.8,1120L712.5,1112.5L715,1105L720,1098.8L718.8,1092.5L712.5,1087.5L707.5,1082.5L708.8,1076.2Z"/>
<path fill="#7aa69b" d="M803.8,1120L797.5,1123.8L795,1130L790,1136.2L782.5,1140L775,1138.8L762.5,1137.5L752.5,1140L742.5,1143.8L735,1147.5L730,1148.8L724.8,1151.6L718.1,1156.5L710.3,1160.3L704.5,1166.1L696.8,1168.1L691,1171.9L691.9,1177.7L689,1184.5L686.1,1191.3L682.3,1197.1L680.3,1202.9L678.4,1207.7L681.3,1212.6L687.1,1215.5L693.9,1218.4L698.7,1222.3L695.8,1226.1L699.7,1231L703.5,1235.8L709.4,1240.1L718.1,1237.7L727.7,1235.4L737.4,1234.8L745.2,1236.8L751,1242.6L756.8,1242.6L764.5,1243.5L771.3,1247.4L770.3,1241.6L767.4,1235.8L765.5,1231L760.6,1229L754.8,1226.1L749,1224.2L743.2,1221.3L738.4,1218.4L743.2,1215.5L741.3,1210.6L738.4,1207.7L742.3,1206.8L748.1,1208.7L746.1,1204.8L741.3,1200L736.5,1195.2L732.6,1189.4L728.7,1184.5L727.7,1177.7L730.6,1171.9L733.5,1170L735.5,1173.9L739.4,1176.8L744.2,1178.7L744.8,1182L749.4,1185.9L748.1,1180.1L751,1176.2L754.8,1180.8L759.1,1183.9L757.7,1178.1L755.8,1173.5L762.2,1174.6L766.1,1176.6L761,1171.5L751.9,1168.1L751.9,1165.2L756.8,1162.3L760.6,1158.4L765.5,1154.5L769.4,1153.5L776.1,1151.6L783.9,1149.7L791.6,1150.6L799.4,1151.6L802.3,1145.8L804.2,1139L807.1,1131.3L806.1,1126.5ZM706.5,1254.2L710.7,1245.5L718.1,1241.6L725.8,1239.3L731.6,1239.7L739.4,1241.6L747.1,1244.5L751,1248.4L752.9,1253.2L758.7,1254.2L759.7,1258.1L754.8,1260L750,1257.1L746.1,1259L749,1264.8L751.9,1270.6L754.8,1276.5L755.2,1282.3L751,1280.3L747.1,1276.5L744.2,1279.4L742.3,1287.1L739.4,1282.3L736.5,1276.5L733.5,1273.5L729.7,1274.5L727.7,1280.3L722.9,1281.3L721.9,1274.5L719,1268.7L720,1263.9L716.1,1261L711.3,1258.1Z"/>
<path fill="#5c9894" d="M975.5,1271.9L976.5,1269.4L979.4,1266.1L982.6,1265.2L985.8,1264.8L986.1,1261.6L985.2,1258.4L989,1257.4L994.2,1256.5L998.7,1255.2L1002.6,1252.6L1006.5,1249.4L1009.7,1246.1L1012.3,1243.5L1016.1,1241L1018.7,1239L1016.8,1242.3L1014.2,1245.5L1011.6,1248.7L1009,1251.9L1008.4,1255.8L1009.7,1257.7L1011.6,1258.7L1011.3,1261L1009.7,1262.6L1006.5,1263.5L1005.2,1265.5L1004.8,1268.1L1001.9,1270.6L997.4,1273.9L993.5,1277.1L989,1279L984.5,1280L979.4,1279.4L976.5,1277.1L975.5,1274.5Z"/>
<path fill="#c5dbae" style="stroke:#c5dbae;stroke-width:.4" d="M554.5,714.5L555.5,720L552.5,732.5L550,743.8L548,742.5L550,730L552.5,718.8ZM575,696.2L581.2,695L583,698.8L580,706.2L578.8,715L576.2,720L573,715L572,706.2Z"/>
<path fill="#c5dbae" style="stroke:#c5dbae;stroke-width:.4" d="M584,624.8L588.6,623.2L589.3,628.8L584.9,630.1Z"/>
<path fill="#cde0ae" style="stroke:#cde0ae;stroke-width:.4" d="M444.5,776.1L447.7,772.3L451.6,770.3L455.5,772.3L458.7,776.1L460,780L458.7,783.9L455.5,786.5L451.6,783.9L447.7,781.3L445.2,778.7ZM465.2,768.4L469.7,764.5L474.2,760.6L474.8,763.9L477.4,761.9L478.7,758.1L482.6,754.8L486.5,755.5L488.4,759.4L489,765.8L486.5,771.6L485.8,776.1L482.6,778.7L482.6,783.9L480,785.8L479.4,789L476.1,785.2L473.5,782.6L469.7,778.7L467.1,774.2ZM465.8,790.3L468.4,789L472.3,790.3L477.4,789.7L480.6,789L482.6,791L480,793.5L476.1,796.1L471.6,796.1L467.1,794.2L465.2,792.3ZM524.5,776.8L529,778.1L531,780.6L530.3,782.6L526.5,781.9L524.5,780ZM443.9,786.5L446.5,787.7L447.1,790.3L444.5,789.7ZM216,555.2L218.2,554.3L220,558.3L221.3,555.2L223.7,556.8L223.1,561.4L220,563.5L217.6,559.8Z"/>
<path fill="#6a9b96" style="stroke:#6a9b96;stroke-width:.4" d="M624.5,671.2L630,666.2L637.5,664.5L640,668.8L635,673.8L630,676.2L629.5,682.5L626.2,677.5ZM627.5,655.5L631.2,652.5L636.2,656.2L633.8,660.5L628.8,660.5Z"/>
<path fill="#c5dbae" style="stroke:#c5dbae;stroke-width:.4" d="M190,672.5L197.5,667.5L204.5,664.5L202.5,671.2L195,677.5L189.5,680ZM191.2,691.2L198.8,686.2L201.2,695L204.5,701.2L201.2,703.8L196.2,698.8L192,696.2ZM181.2,683.8L185,683L184.5,686.2L181.5,686.2ZM180,692.5L183,690.5L182,697.5L179.5,696.2ZM190,723.8L196.2,716.2L200,721.2L197.5,725L191.2,724.5ZM187,736.2L191.2,735L190,742.5L187.5,742.5ZM197.5,736.2L202,736.2L200,746.2L196.2,755L193,753L196.2,745ZM201.2,745L204.5,745L203.8,751.2L201.2,751.2ZM250.8,655.5L253.8,654.5L255,659.5L252,660ZM281.2,623.8L283.8,618L287,617.5L287.5,625L285.5,632.5L283.8,637L282.5,630ZM242.5,896.2L248,895.5L249.5,898.8L245,900Z"/>
<path fill="#d8e7b1" style="stroke:#d8e7b1;stroke-width:.4" d="M501.9,799.4L505.8,796.1L507.7,798.1L505.8,803.2L502.6,805.2L500.6,803.2Z"/>
<path fill="#abcaa6" style="stroke:#abcaa6;stroke-width:.4" d="M439.5,1131.2L441.2,1137.5L442,1147.5L441.2,1160L437.5,1172.5L433.8,1173.8L427.5,1168.8L425,1160L423,1150L426.2,1143.8L433.8,1140.5L437.5,1137.5Z"/>
<path fill="#9ec1a4" style="stroke:#9ec1a4;stroke-width:.4" d="M284.5,1219.8L293.5,1215L302,1211.6L303.4,1216.4L307.7,1219.2L303.4,1226.3L299.2,1230.5L293.5,1226.3L287.9,1223.5ZM317.5,1210.8L323.2,1209.9L327.4,1215L324.6,1216.4L319,1213.6ZM257.4,1236.2L262.5,1233.3L265.9,1234.8L262.5,1238.4L258.3,1238.4Z"/>
<path fill="#2f7585" style="stroke:#2f7585;stroke-width:.4" d="M613.2,1122.6L617.1,1123.9L622.3,1127.7L627.4,1130.3L631.3,1133.5L630,1131L626.1,1127.7L621,1125.2L615.8,1122.3ZM551.3,1080.6L553.9,1082.6L558.4,1086.5L557.1,1086.7L553.2,1083.9ZM588.1,1112.3L592.6,1112.3L590.6,1114.2Z"/>
<path fill="#7aa69b" style="stroke:#7aa69b;stroke-width:.4" d="M743.2,1215.5L749,1213.5L756.8,1218.4L764.5,1220.3L770.3,1223.2L774.2,1230L781,1232.9L780,1236.8L776.1,1235.8L770.3,1231L764.5,1226.1L756.8,1224.2L750,1221.3L745.2,1218.4ZM768,1158.4L770.7,1157.4L772.6,1160.7L770.3,1163.2L767.6,1161.9ZM782.3,1178.7L786.8,1176.2L789.3,1177.4L787.7,1180.6L783.9,1181.6ZM804.2,1195.2L809,1191.3L813.9,1189L817.7,1192.3L820.3,1196.1L816.8,1199L811,1199.4L806.1,1198.1ZM807.5,1214.5L811.9,1212.6L814.8,1216.5L813.9,1222.3L811.4,1223.8L810,1218.4ZM830.3,1231L835.2,1230L834.2,1233.9L831.3,1232.9ZM817.2,1239.3L821.6,1237.7L821,1239.7L817.7,1241.2ZM786.8,1236.8L789.7,1238.1L793.2,1241.6L791.6,1242L787.7,1239.3ZM804.8,1258.1L807.5,1254.2L810,1258.1L808.1,1261.9L805.5,1260.6ZM862.8,1270.6L867.1,1264.8L871.9,1260L872.9,1262.9L870,1270.6L866.1,1277.4L864.2,1274.5ZM772.3,1312.3L776.1,1309.4L783.9,1307.4L785.8,1305.5L786.8,1309.4L795.5,1308.4L805.2,1306.5L814.8,1307.4L822.6,1305.1L824.5,1308.4L831.3,1305.9L836.5,1305.9L835.2,1310.3L828.4,1311.3L820.6,1315.2L812.9,1317.1L803.2,1320L800.3,1316.1L791.6,1315.5L783.9,1316.1L776.1,1317.1L772.6,1316.1ZM666.8,1204.8L670.6,1203.9L672,1208.7L673.5,1212.6L671.6,1212.2L668.7,1208.7ZM687.1,1245.5L691,1240.1L693.9,1243.5L696.8,1248.4L692.9,1247.8L689,1247.8ZM697.2,1257.1L699.7,1256.1L700.6,1260L698.3,1261Z"/>
</g>
<g fill="#fff">
</g>
<text class="n" y="1392.5"><tspan x="20.0" textLength="36.9" lengthAdjust="spacingAndGlyphs">Les</tspan> <tspan x="62.8" textLength="63.3" lengthAdjust="spacingAndGlyphs">dades</tspan> <tspan x="131.9" textLength="87.7" lengthAdjust="spacingAndGlyphs">inclouen</tspan> <tspan x="225.5" textLength="18.0" lengthAdjust="spacingAndGlyphs">el</tspan> <tspan x="249.4" textLength="65.0" lengthAdjust="spacingAndGlyphs">Regne</tspan> <tspan x="320.2" textLength="45.8" lengthAdjust="spacingAndGlyphs">Unit,</tspan> <tspan x="372.0" textLength="38.4" lengthAdjust="spacingAndGlyphs">que</tspan> <tspan x="416.2" textLength="23.8" lengthAdjust="spacingAndGlyphs">va</tspan> <tspan x="445.9" textLength="70.2" lengthAdjust="spacingAndGlyphs">formar</tspan> <tspan x="522.0" textLength="41.9" lengthAdjust="spacingAndGlyphs">part</tspan> <tspan x="569.8" textLength="25.5" lengthAdjust="spacingAndGlyphs">de</tspan> <tspan x="601.1" textLength="18.3" lengthAdjust="spacingAndGlyphs">la</tspan> <tspan x="625.3" textLength="28.3" lengthAdjust="spacingAndGlyphs">UE</tspan> <tspan x="659.6" textLength="37.8" lengthAdjust="spacingAndGlyphs">fins</tspan> <tspan x="703.2" textLength="18.3" lengthAdjust="spacingAndGlyphs">al</tspan> <tspan x="727.5" textLength="52.3" lengthAdjust="spacingAndGlyphs">2020</tspan></text>
<text class="f" y="1427.5"><tspan x="20.0" textLength="60.8" lengthAdjust="spacingAndGlyphs">Mapa:</tspan> <tspan x="86.3" textLength="44.3" lengthAdjust="spacingAndGlyphs">ACN</tspan> <tspan x="136.0" textLength="7.4" lengthAdjust="spacingAndGlyphs">•</tspan> <tspan x="148.9" textLength="49.2" lengthAdjust="spacingAndGlyphs">Font:</tspan> <tspan x="203.5" textLength="100.8" lengthAdjust="spacingAndGlyphs">Parlament</tspan> <tspan x="309.7" textLength="80.4" lengthAdjust="spacingAndGlyphs">Europeu</tspan> <tspan x="395.6" textLength="83.6" lengthAdjust="spacingAndGlyphs">(informe</tspan> <tspan x="484.7" textLength="87.9" lengthAdjust="spacingAndGlyphs">'Taxation</tspan> <tspan x="578.0" textLength="20.2" lengthAdjust="spacingAndGlyphs">of</tspan> <tspan x="603.6" textLength="31.0" lengthAdjust="spacingAndGlyphs">the</tspan> <tspan x="640.1" textLength="82.4" lengthAdjust="spacingAndGlyphs">Informal</tspan> <tspan x="727.9" textLength="90.8" lengthAdjust="spacingAndGlyphs">Economy</tspan> <tspan x="824.1" textLength="17.5" lengthAdjust="spacingAndGlyphs">in</tspan> <tspan x="847.1" textLength="31.0" lengthAdjust="spacingAndGlyphs">the</tspan> <tspan x="883.5" textLength="30.6" lengthAdjust="spacingAndGlyphs">EU'</tspan> <tspan x="919.6" textLength="29.4" lengthAdjust="spacingAndGlyphs">del</tspan> <tspan x="954.5" textLength="57.1" lengthAdjust="spacingAndGlyphs">2022)</tspan> <tspan x="1017.0" textLength="7.4" lengthAdjust="spacingAndGlyphs">•</tspan> <tspan x="1029.9" textLength="52.4" lengthAdjust="spacingAndGlyphs">Creat</tspan> <tspan x="1087.8" textLength="43.6" lengthAdjust="spacingAndGlyphs">amb</tspan></text>
<text class="f" y="1454"><tspan x="20.0" textLength="124.9" lengthAdjust="spacingAndGlyphs">Datawrapper</tspan></text>
</svg>
</body></html>
